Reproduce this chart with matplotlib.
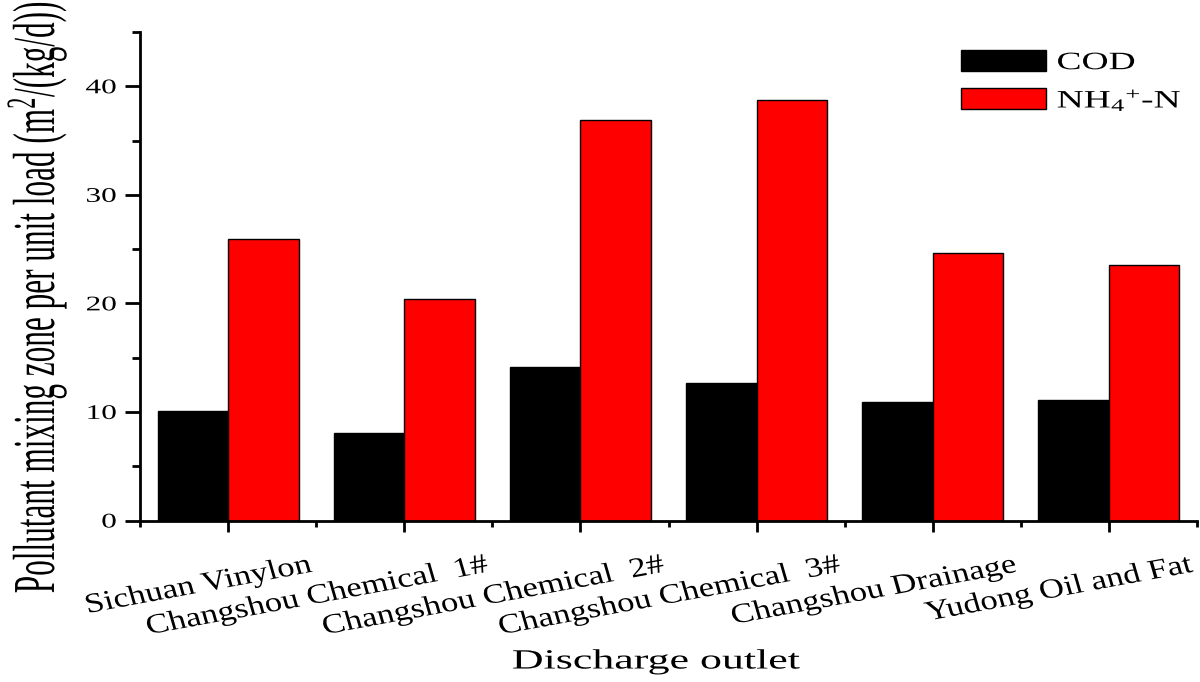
import matplotlib
matplotlib.use('Agg')
import matplotlib.pyplot as plt
import numpy as np
from matplotlib.patheffects import AbstractPathEffect
from matplotlib.transforms import Affine2D, ScaledTranslation
from matplotlib.ticker import MultipleLocator, FixedLocator

# ---------------- data ----------------
categories = ["Sichuan Vinylon", "Changshou Chemical  1#", "Changshou Chemical  2#",
              "Changshou Chemical  3#", "Changshou Drainage", "Yudong Oil and Fat"]
cod = [10.1, 8.1, 14.1, 12.7, 10.9, 11.1]
nh4 = [25.9, 20.4, 36.9, 38.7, 24.6, 23.5]
series_labels = ["COD", r"NH$_4$$^{+}$-N"]
yticks = [0, 10, 20, 30, 40]
ylabel = r"Pollutant mixing zone per unit load (m$^2$/(kg/d))"
xlabel = "Discharge outlet"

plt.rcParams['font.family'] = ['Liberation Serif', 'DejaVu Serif']
plt.rcParams['mathtext.fontset'] = 'custom'
plt.rcParams['mathtext.rm'] = 'Liberation Serif'
plt.rcParams['mathtext.it'] = 'Liberation Serif:italic'
plt.rcParams['mathtext.bf'] = 'Liberation Serif:bold'


class StretchX(AbstractPathEffect):
    """Draw text glyphs widened horizontally (the reference image is stretched)."""
    def __init__(self, sx=1.5, anchor='center'):
        super().__init__()
        self.sx = sx
        self.anchor = anchor

    def draw_path(self, renderer, gc, tpath, affine, rgbFace=None):
        ext = tpath.get_extents()
        if self.anchor == 'left':
            lx, ly = ext.x0, 0.0
        elif self.anchor == 'right':
            lx, ly = ext.x1, 0.0
        else:
            lx, ly = (ext.x0 + ext.x1) / 2, (ext.y0 + ext.y1) / 2
        px, py = affine.transform((lx, ly))
        aff = affine + Affine2D().translate(-px, -py).scale(self.sx, 1).translate(px, py)
        renderer.draw_path(gc, tpath, aff, rgbFace)


SX = 1.5
W, H = 1200, 682
fig = plt.figure(figsize=(W / 100, H / 100), dpi=100)
ax = fig.add_axes([140 / W, 1 - 520.5 / H, (1197 - 140) / W, (520.5 - 32) / H])

x = np.arange(len(categories))
w = 0.4
b1 = ax.bar(x - w / 2, cod, w, color='black', edgecolor='black', linewidth=1)
b2 = ax.bar(x + w / 2, nh4, w, color='#ff0000', edgecolor='black', linewidth=1)

ax.set_xlim(-0.5, len(categories) - 0.5)
ax.set_ylim(0, 45)

for s in ['top', 'right']:
    ax.spines[s].set_visible(False)
for s in ['left', 'bottom']:
    ax.spines[s].set_linewidth(2)

ax.set_xticks(x)
ax.set_xticklabels([])
ax.xaxis.set_minor_locator(FixedLocator(np.arange(-0.5, len(categories), 1.0)))
ax.tick_params(axis='x', which='major', length=8, width=2, direction='out')
ax.tick_params(axis='x', which='minor', length=4, width=2, direction='out')

ax.set_yticks(yticks)
ax.yaxis.set_minor_locator(MultipleLocator(5))
ax.tick_params(axis='y', which='major', length=11, width=2, direction='out',
               labelsize=15, pad=6)
ax.tick_params(axis='y', which='minor', length=6, width=2, direction='out')
for t in ax.get_yticklabels():
    t.set_path_effects([StretchX(SX, 'right')])

# category labels, rotated
trans = ax.get_xaxis_transform() + ScaledTranslation(85 / 100, -51 / 100, fig.dpi_scale_trans)
for i, lab in enumerate(categories):
    ax.text(x[i], 0, lab, transform=trans, rotation=13, rotation_mode='anchor',
            ha='right', va='baseline', fontsize=20,
            path_effects=[StretchX(1.25, 'right')])

ax.set_ylabel(ylabel, fontsize=22.5)
ax.yaxis.set_label_coords(37 / W, 1 - 297 / H, transform=fig.transFigure)
ax.yaxis.label.set_va('center')
ax.yaxis.label.set_path_effects([StretchX(1.9, 'center')])

ax.set_xlabel(xlabel, fontsize=20)
ax.xaxis.set_label_coords(656 / W, 1 - 662 / H, transform=fig.transFigure)
ax.xaxis.label.set_va('center')
ax.xaxis.label.set_path_effects([StretchX(1.58, 'center')])

leg = ax.legend(handles=[b1, b2], labels=series_labels, loc='upper left',
                bbox_to_anchor=(961 / W, 1 - 50 / H), bbox_transform=fig.transFigure,
                frameon=False, fontsize=18, handlelength=3.4, handleheight=0.92,
                handletextpad=0.44, labelspacing=0.5, borderpad=0, borderaxespad=0)
for t in leg.get_texts():
    t.set_path_effects([StretchX(SX, 'left')])

fig.savefig('out.png', dpi=100)
